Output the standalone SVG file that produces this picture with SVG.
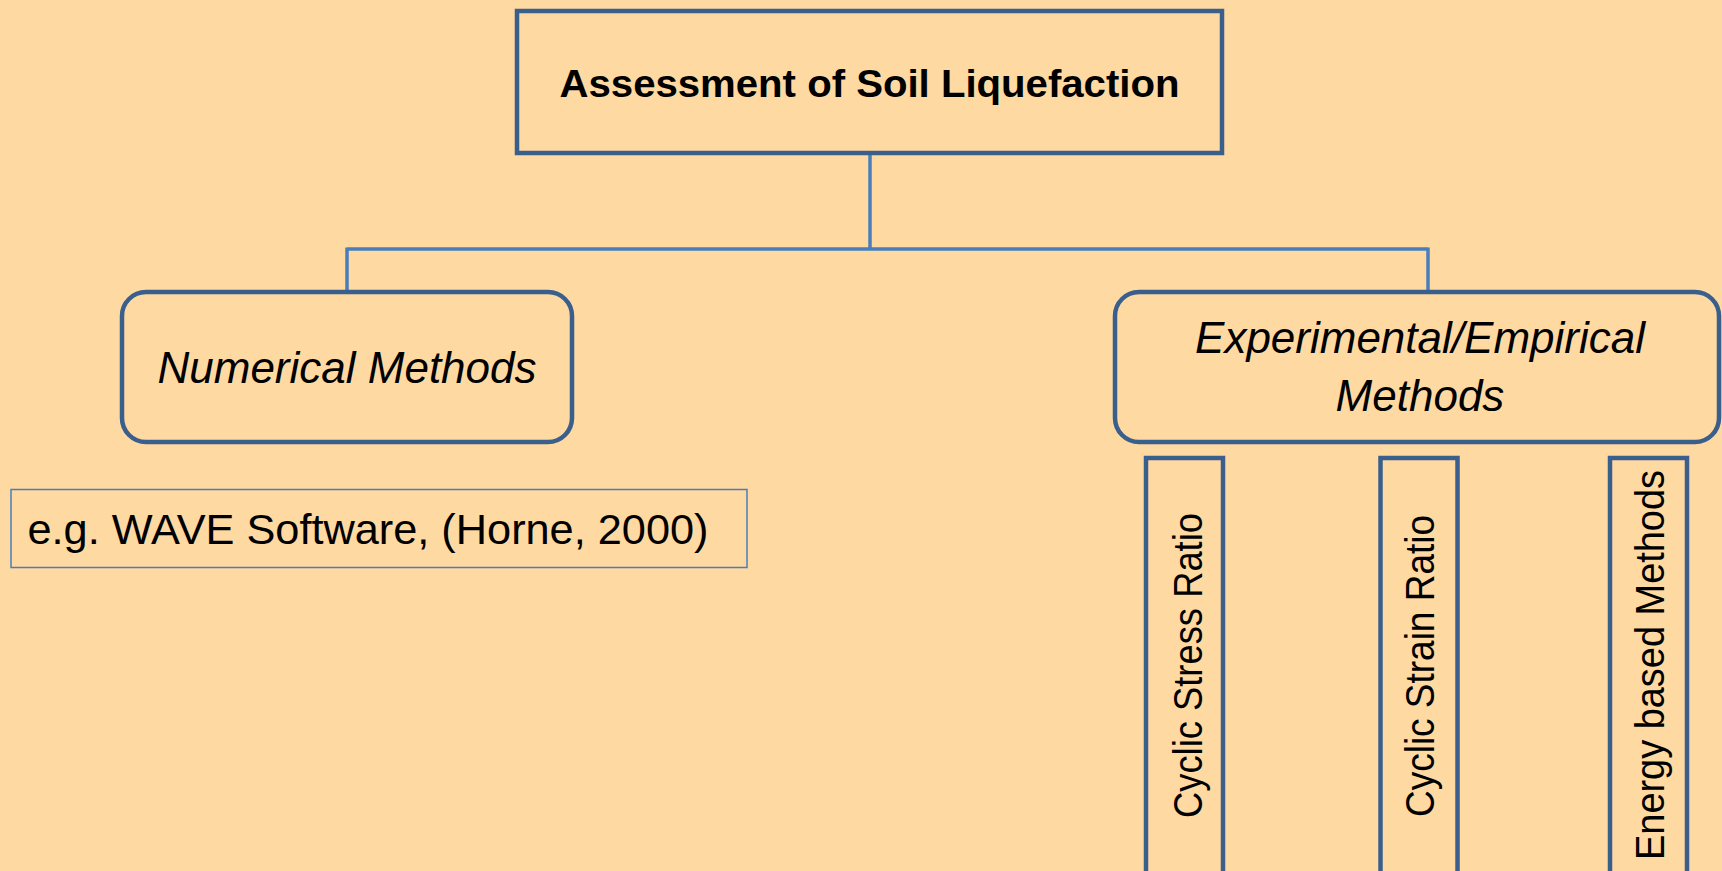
<svg xmlns="http://www.w3.org/2000/svg" width="1722" height="871" viewBox="0 0 1722 871">
<style>
.box{fill:#FED9A2;stroke:#3B5F8D;stroke-width:4.5}
.conn{fill:none;stroke:#4A7EBB;stroke-width:3.5}
.t{font-family:"Liberation Sans",Arial,sans-serif;fill:#000}
.it{font-style:italic;font-size:44px}
.v{font-size:41px}
</style>
<rect x="0" y="0" width="1722" height="871" fill="#FED9A2"/>
<g id="connectors">
<path class="conn" d="M870,154 V249 M347,249 H1428 M347,247.5 V291 M1428,247.5 V291"/>
</g>
<g id="root">
<rect class="box" x="517" y="11" width="705" height="142"/>
<text class="t" x="869.5" y="97" text-anchor="middle" font-size="38" font-weight="bold" textLength="620" lengthAdjust="spacingAndGlyphs">Assessment of Soil Liquefaction</text>
</g>
<g id="numerical">
<rect class="box" x="122" y="292" width="450" height="150" rx="24" ry="24"/>
<text class="t it" x="347" y="383" text-anchor="middle">Numerical Methods</text>
</g>
<g id="wave">
<rect x="11" y="489.5" width="736" height="78" fill="#FED9A2" stroke="#4A7EBB" stroke-width="1.5"/>
<text class="t" x="27.5" y="544" font-size="42" textLength="681" lengthAdjust="spacingAndGlyphs">e.g. WAVE Software, (Horne, 2000)</text>
</g>
<g id="experimental">
<rect class="box" x="1115" y="292" width="604" height="150" rx="24" ry="24"/>
<text class="t it" x="1420" y="353" text-anchor="middle">Experimental/Empirical</text>
<text class="t it" x="1420" y="411" text-anchor="middle">Methods</text>
</g>
<g id="csr">
<rect class="box" x="1146" y="458" width="77" height="430"/>
<text class="t v" transform="translate(1202,818) rotate(-90)" textLength="305" lengthAdjust="spacingAndGlyphs">Cyclic Stress Ratio</text>
</g>
<g id="cstr">
<rect class="box" x="1380.5" y="458" width="77" height="430"/>
<text class="t v" transform="translate(1434,817) rotate(-90)" textLength="302" lengthAdjust="spacingAndGlyphs">Cyclic Strain Ratio</text>
</g>
<g id="energy">
<rect class="box" x="1610" y="458" width="77" height="430"/>
<text class="t v" transform="translate(1664,860) rotate(-90)" textLength="390" lengthAdjust="spacingAndGlyphs">Energy based Methods</text>
</g>
</svg>
